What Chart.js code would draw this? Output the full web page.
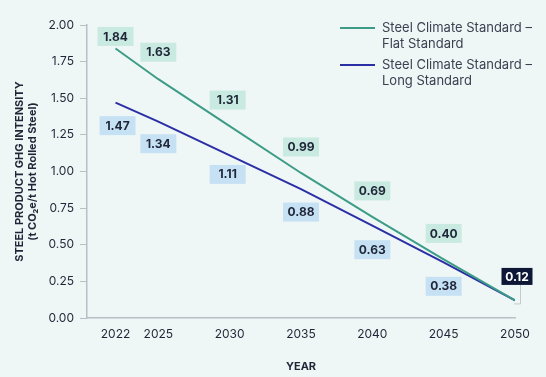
<!DOCTYPE html>
<html>
<head>
<meta charset="utf-8">
<script src="https://cdn.jsdelivr.net/npm/chart.js@4.4.0/dist/chart.umd.min.js"></script>
<style>
  html, body { margin: 0; padding: 0; background: #eff7f6; }
  #wrap { width: 546px; height: 377px; position: relative; }
</style>
</head>
<body>
<div id="wrap"><canvas id="chart"></canvas></div>
<script>
const years = [2022, 2025, 2030, 2035, 2040, 2045, 2050];
const flatValues = [1.84, 1.63, 1.31, 0.99, 0.69, 0.40, 0.12];
const longValues = [1.47, 1.34, 1.11, 0.88, 0.63, 0.38, 0.12];
const flatLabel = ['Steel Climate Standard \u2013', 'Flat Standard'];
const longLabel = ['Steel Climate Standard \u2013', 'Long Standard'];
const yTicks = [0, 0.25, 0.5, 0.75, 1, 1.25, 1.5, 1.75, 2];

const FONT = 'Inter, "Noto Sans", sans-serif';
const TEXT = '#1f2638';
const GREEN = '#3c9c85';
const BLUE = '#2b2fa6';

// value boxes: offsets from the point (px), per series
const boxStyles = {
    flat: { fill: '#c8eae1', offsets: [[0, -12], [0, -27], [-2, -26], [0, -26], [0, -26], [0, -26], null] },
    long: { fill: '#c6e1f4', offsets: [[2, 23], [0, 22], [-2, 19], [0, 23], [0, 24], [0, 24], [2, -24]] }
};

const valueBoxes = {
    id: 'valueBoxes',
    afterDatasetsDraw(chart) {
        const { ctx, scales: { x, y } } = chart;
        ctx.save();
        ctx.font = 'bold 12px ' + FONT;
        ctx.textAlign = 'center';
        ctx.textBaseline = 'middle';
        const drawSeries = (values, style, last) => {
            values.forEach((v, i) => {
                const off = style.offsets[i];
                if (!off) return;
                const px = x.getPixelForValue(years[i]);
                const py = y.getPixelForValue(v);
                const cx = px + off[0];
                const cy = py + off[1];
                const isLast = last && i === values.length - 1;
                const w = isLast ? 31 : 36, h = isLast ? 17 : 19;
                if (isLast) {
                    // leader line from box to point
                    ctx.strokeStyle = '#c3c9cc';
                    ctx.lineWidth = 1;
                    ctx.beginPath();
                    ctx.moveTo(cx + 3.5, cy + h / 2);
                    ctx.lineTo(cx + 3.5, py + 3.5);
                    ctx.lineTo(px - 1, py + 3.5);
                    ctx.stroke();
                }
                ctx.fillStyle = isLast ? '#0e1736' : style.fill;
                ctx.fillRect(cx - w / 2, cy - h / 2, w, h);
                ctx.fillStyle = isLast ? '#ffffff' : TEXT;
                ctx.fillText(v.toFixed(2), cx, cy + 0.5);
            });
        };
        drawSeries(flatValues, boxStyles.flat, false);
        drawSeries(longValues, boxStyles.long, true);
        ctx.restore();
    }
};

const customLegend = {
    id: 'customLegend',
    afterDraw(chart) {
        const { ctx } = chart;
        ctx.save();
        ctx.font = '13px ' + FONT;
        ctx.textAlign = 'left';
        ctx.textBaseline = 'middle';
        chart.data.datasets.forEach((ds, i) => {
            const top = 28 + i * 37;
            ctx.strokeStyle = ds.borderColor;
            ctx.lineWidth = 2;
            ctx.beginPath();
            ctx.moveTo(340, top);
            ctx.lineTo(375, top);
            ctx.stroke();
            ctx.fillStyle = '#3a4252';
            ds.label.forEach((line, j) => ctx.fillText(line, 382, top + j * 16));
        });
        ctx.restore();
    }
};

new Chart(document.getElementById('chart'), {
    type: 'line',
    data: {
        datasets: [
            {
                label: flatLabel,
                data: years.map((yr, i) => ({ x: yr, y: flatValues[i] })),
                borderColor: GREEN,
                borderWidth: 2,
                pointRadius: 0,
                tension: 0
            },
            {
                label: longLabel,
                data: years.map((yr, i) => ({ x: yr, y: longValues[i] })),
                borderColor: BLUE,
                borderWidth: 2,
                pointRadius: 0,
                tension: 0
            }
        ]
    },
    options: {
        animation: false,
        responsive: true,
        maintainAspectRatio: false,
        layout: { padding: { top: 25, right: 31, left: 13, bottom: 0 } },
        plugins: {
            legend: { display: false },
            tooltip: { enabled: false }
        },
        scales: {
            x: {
                type: 'linear',
                min: 2020,
                max: 2050,
                afterBuildTicks: axis => { axis.ticks = years.map(v => ({ value: v })); },
                afterFit: axis => { axis.height = 59; },
                ticks: {
                    color: TEXT,
                    font: { family: FONT, size: 12 },
                    padding: 9,
                    maxRotation: 0,
                    autoSkip: false,
                    callback: v => String(v)
                },
                grid: { drawOnChartArea: false, drawTicks: false },
                border: { color: '#b9c0c5', width: 1.5 },
                title: {
                    display: true,
                    text: 'YEAR',
                    color: TEXT,
                    font: { family: FONT, size: 11, weight: 'bold' },
                    padding: { top: 12 }
                }
            },
            y: {
                min: 0,
                max: 2,
                afterBuildTicks: axis => { axis.ticks = yTicks.map(v => ({ value: v })); },
                afterFit: axis => { axis.width = 74; },
                ticks: {
                    color: TEXT,
                    font: { family: FONT, size: 12 },
                    padding: 6,
                    callback: v => v.toFixed(2)
                },
                grid: { drawOnChartArea: false, tickLength: 7, color: '#b9c0c5' },
                border: { color: '#b9c0c5', width: 1.5 },
                title: {
                    display: true,
                    text: ['STEEL PRODUCT GHG INTENSITY', '(t CO\u2082e/t Hot Rolled Steel)'],
                    color: TEXT,
                    font: { family: FONT, size: 11, weight: 'bold', lineHeight: 1.2 },
                    padding: { top: 0, bottom: 4 }
                }
            }
        }
    },
    plugins: [valueBoxes, customLegend]
});
</script>
</body>
</html>
